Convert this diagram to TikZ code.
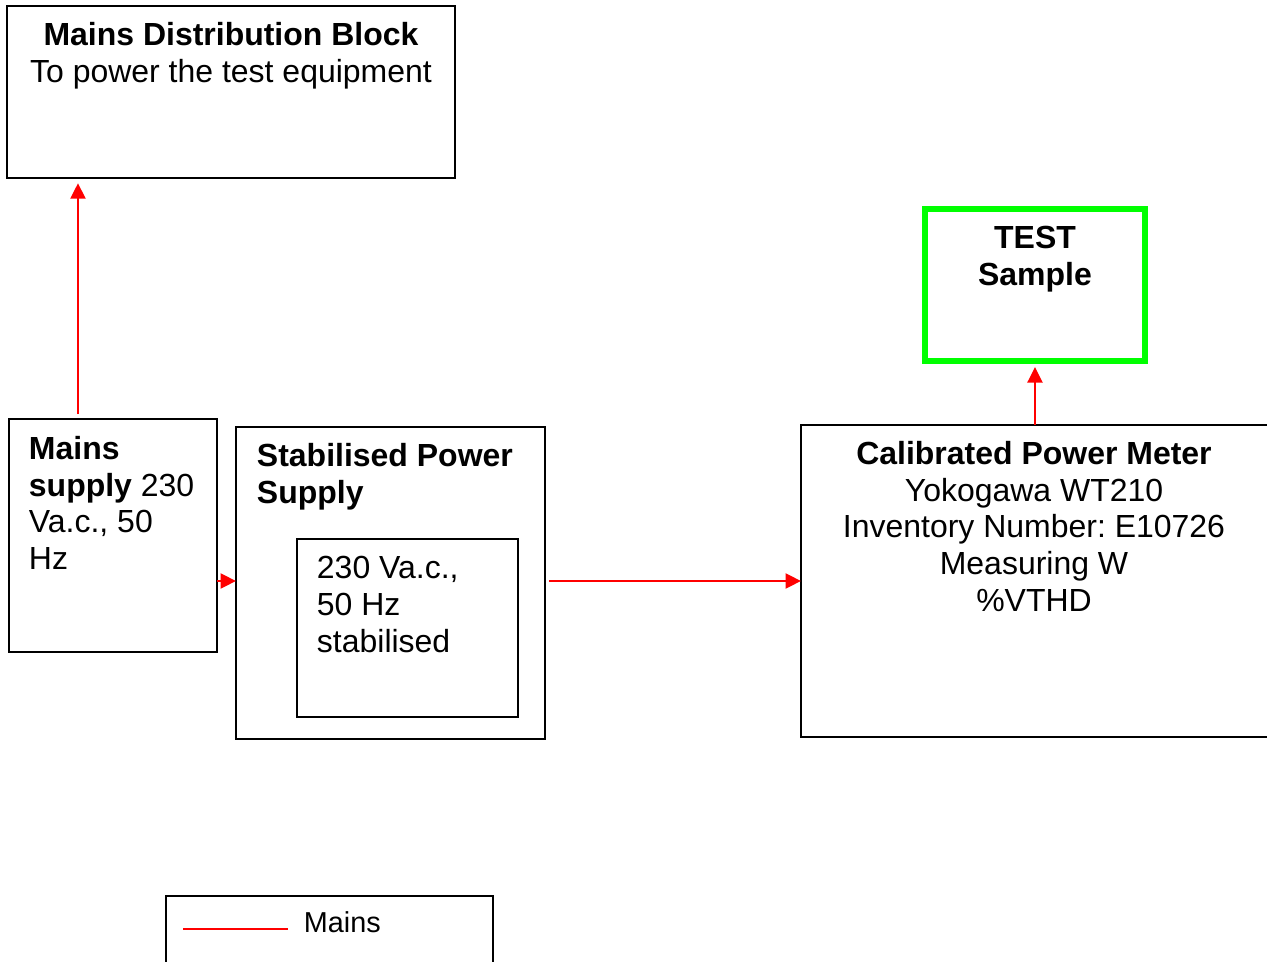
\documentclass[tikz,border=0pt]{standalone}
\usepackage{fontspec}
\setmainfont{Liberation Sans}
\frenchspacing
\usetikzlibrary{arrows.meta, positioning, calc}
\definecolor{cmains}{HTML}{FF0000}
\definecolor{cdut}{HTML}{00FF00}
\tikzset{
  every picture/.style={font=\fontsize{18.2}{21}\selectfont, line width=1.1pt},
  box/.style={draw=black, rectangle, inner sep=0pt, outer sep=0pt, anchor=north west},
  dutbox/.style={box, draw=cdut, line width=2.9pt},
  txt/.style={inner sep=0pt, anchor=north west, align=left},
  ctxt/.style={inner sep=0pt, anchor=north, align=center},
  mains/.style={-{Triangle[length=0.31cm, width=0.3cm]}, draw=cmains, line width=1.3pt},
}

\begin{document}
\begin{tikzpicture}[x=0.02cm, y=-0.02cm]
  \useasboundingbox (0,0) rectangle (1267,962);
  \clip (0,0) rectangle (1267,962);
  % boxes
  \node[box, minimum width=8.96cm, minimum height=3.44cm] (dist) at (7,6) {};
  \node[box, minimum width=4.16cm, minimum height=4.66cm] (supply) at (9,419) {};
  \node[box, minimum width=6.18cm, minimum height=6.24cm] (stab) at (236,427) {};
  \node[box, minimum width=4.42cm, minimum height=3.56cm] (stabout) at (297,539) {};
  \node[box, minimum width=9.38cm, minimum height=6.24cm] (meter) at (801,425) {};
  \node[dutbox, minimum width=4.4cm, minimum height=3.04cm] (dut) at (925,209) {};
  \node[box, minimum width=6.54cm, minimum height=2cm] (legend) at (166,896) {};
  % texts
  \node[ctxt] (distlbl) at (231,21) {\textbf{Mains Distribution Block}\\To power the test equipment};
  \node[txt] (supplylbl) at (28,435) {\textbf{Mains}\\\textbf{supply} 230\\Va.c., 50\\Hz};
  \node[txt] (stablbl) at (256,442) {\textbf{Stabilised Power}\\\textbf{Supply}};
  \node[txt] (staboutlbl) at (316,555) {230 Va.c.,\\50 Hz\\stabilised};
  \node[ctxt] (meterlbl) at (1034,440) {\textbf{Calibrated Power Meter}\\Yokogawa WT210\\Inventory Number: E10726\\Measuring W\\\%VTHD};
  \node[ctxt] (dutlbl) at (1035,225) {\textbf{TEST}\\\textbf{Sample}};
  \coordinate (leg1) at (183,929);
  \coordinate (leg2) at (288,929);
  \node[txt, font=\fontsize{16.4}{19}\selectfont] (leglbl) at (303,911) {Mains};
  % mains wiring
  \coordinate (feed) at (0,581);
  \draw[mains, shorten <=2.8pt, shorten >=3pt] ([xshift=1.38cm]supply.north west) -- ([xshift=1.38cm]supply.north west |- dist.south);
  \draw[mains] (supply.east |- feed) -- (stab.west |- feed);
  \draw[mains, shorten <=2.5pt] (stab.east |- feed) -- (meter.west |- feed);
  \draw[mains, shorten >=3.5pt] (meter.north -| dut.south) -- (dut.south);
  \draw[cmains, line width=1.3pt] (leg1) -- (leg2);
\end{tikzpicture}
\end{document}
